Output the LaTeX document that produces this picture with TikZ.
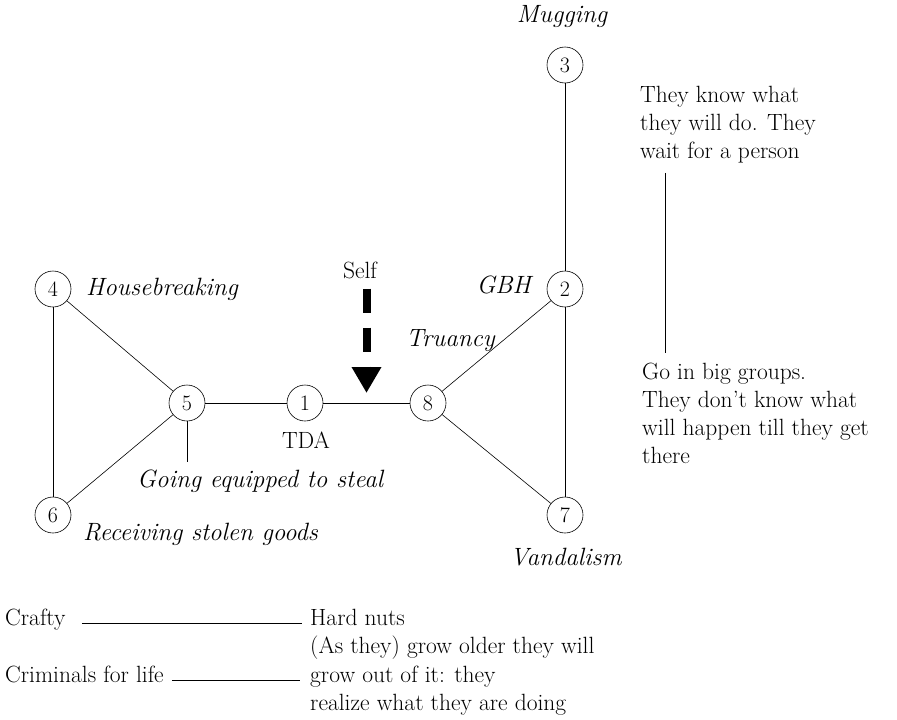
\documentclass[tikz,border=0pt]{standalone}
\usepackage{fontspec}
\usepackage{tikz}
\usetikzlibrary{arrows.meta, calc}
\tikzset{
  % numbered offence in a small ring
  offence/.style={
    circle, draw, line width=0.6pt, minimum size=36pt, inner sep=0pt,
    font=\fontsize{22}{22}\selectfont
  },
  % italic name of an offence
  crime/.style={font=\fontsize{25}{28}\selectfont\itshape, inner sep=0pt},
  % plain remark text
  remark/.style={font=\fontsize{23.5}{28}\selectfont, inner sep=0pt, align=left},
  % lines
  link/.style={draw, line width=0.6pt},
  push/.style={draw, line width=8pt, dash pattern=on 24pt off 15pt,
               -{Triangle[length=26pt,width=28pt]}},
}

\begin{document}
\begin{tikzpicture}[x=1pt, y=-1pt]
\useasboundingbox (0,0) rectangle (897,720);

% ===========================================================================
% OFFENCES
% ===========================================================================
\node[offence] (n3) at (565, 65) {3};
\node[offence] (n2) at (565,289) {2};
\node[offence] (n4) at ( 53,289) {4};
\node[offence] (n5) at (187,403) {5};
\node[offence] (n1) at (305,403) {1};
\node[offence] (n8) at (428,403) {8};
\node[offence] (n6) at ( 53,515) {6};
\node[offence] (n7) at (565,515) {7};

\node[crime, anchor=base] (mugging) at (562,23) {Mugging};
\node[crime, anchor=base west] (house) at (86,295) {Housebreaking};
\node[crime, anchor=base east] (gbh) at (531,293) {GBH};
\node[crime, anchor=base west] (truancy) at (406,346) {Truancy};
\node[crime, anchor=base west] (equipped) at (137,487) {Going equipped to steal};
\node[crime, anchor=base west] (receiving) at (83,540) {Receiving stolen goods};
\node[crime, anchor=base west] (vandal) at (510,565) {Vandalism};
\node[remark, anchor=base] (tda) at (306,448) {TDA};

\draw[link] (n4) -- (n5);
\draw[link] (n4) -- (n6);
\draw[link] (n5) -- (n6);
\draw[link] (n5) -- (n1);
\draw[link] (n1) -- (n8);
\draw[link] (n8) -- (n2);
\draw[link] (n8) -- (n7);
\draw[link] (n2) -- (n7);
\draw[link] (n2) -- (n3);
\coordinate (stub) at (187,462);
\draw[link] (n5) -- (stub);

% --- the push of the self ---
\node[remark, anchor=base] (self) at (360,278) {Self};
\coordinate (hit) at ($(n1)!0.5!(n8)$);
\draw[push] ($(self.south -| hit)+(0,10)$) -- ($(hit)+(0,-10)$);

% ===========================================================================
% RIGHT: how the groups behave (base = baseline of the last line)
% ===========================================================================
\node[remark, anchor=base west] (know) at (640,158)
      {They know what\\they will do. They\\wait for a person};
\node[remark, anchor=base west] (groups) at (642,463)
      {Go in big groups.\\They don't know what\\will happen till they get\\there};
\draw[link] ($(know.south west)+(25,10)$) -- ($(groups.north west)+(23,-9)$);

% ===========================================================================
% BOTTOM: kinds of offender
% ===========================================================================
\node[remark, anchor=base west] (crafty) at (5,625) {Crafty};
\node[remark, anchor=base west] (lifers) at (5,682) {Criminals for life};
\node[remark, anchor=base west] (hard) at (310,625) {Hard nuts};
\node[remark, anchor=base west] (older) at (310,653) {(As they) grow older they will};
\node[remark, anchor=base west] (growout) at (310,682) {grow out of it: they};
\node[remark, anchor=base west] (realize) at (310,710) {realize what they are doing};

\draw[link] ($(crafty.base east)+(16,-2)$) -- ($(hard.base west)+(-8,-2)$);
\draw[link] ($(lifers.base east)+(8,-2)$) -- ($(growout.base west)+(-10,-2)$);

\end{tikzpicture}
\end{document}
